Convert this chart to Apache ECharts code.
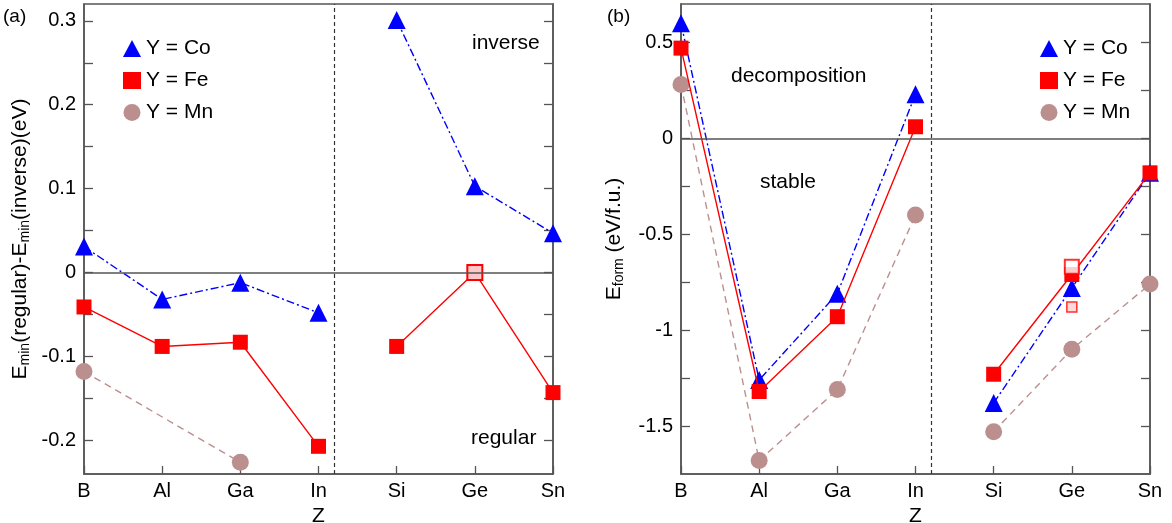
<!DOCTYPE html>
<html>
<head>
<meta charset="utf-8">
<script src="https://cdn.jsdelivr.net/npm/echarts@6/dist/echarts.min.js"></script>
<style>
  html, body { margin: 0; padding: 0; background: #fff; }
  #chart { width: 1172px; height: 523px; }
</style>
</head>
<body>
<div id="chart"></div>
<script>
// Z elements on the x axis (B..In are group III, Si..Sn group IV)
var zLabels = ['B', 'Al', 'Ga', 'In', 'Si', 'Ge', 'Sn'];

// panel (a): E_min(regular) - E_min(inverse)
var coA = [0.031, -0.032, -0.012, -0.048, 0.301, 0.103, 0.047];
var feA = [-0.041, -0.088, -0.083, -0.207, -0.088, 0.0, -0.143];
var mnA = [-0.118, null, -0.226, null, null, null, null];

// panel (b): formation energy
var coB = [0.60, -1.26, -0.81, 0.23, -1.38, -0.78, -0.18];
var feB = [0.47, -1.32, -0.93, 0.06, -1.23, -0.71, -0.18];
var mnB = [0.28, -1.68, -1.31, -0.40, -1.53, -1.10, -0.76];
var feGeExtraB = [-0.67, -0.88];

var yTicksA = [-0.2, -0.15, -0.1, -0.05, 0, 0.05, 0.1, 0.15, 0.2, 0.25, 0.3];
var yLabelsA = [-0.2, -0.1, 0, 0.1, 0.2, 0.3];
var yTicksB = [-1.5, -1.25, -1, -0.75, -0.5, -0.25, 0, 0.25, 0.5];
var yLabelsB = [-1.5, -1, -0.5, 0, 0.5];

var BLUE = '#0000ff', RED = '#ff0000', BROWN = '#bc8f8f', AXIS = '#555';
var FONT = 'Liberation Sans';

var myChart = echarts.init(document.getElementById('chart'));

// points of one group (0..3 or 4..6), nulls skipped
function seg(vals, from, to) {
    var out = [];
    for (var i = from; i <= to; i++) {
        if (vals[i] !== null) out.push([i, vals[i]]);
    }
    return out;
}

var styles = {
    'Y = Co': { color: BLUE, symbol: 'triangle', size: 18, line: [8, 3, 2, 3] },
    'Y = Fe': { color: RED, symbol: 'rect', size: 15, line: 'solid' },
    'Y = Mn': { color: BROWN, symbol: 'circle', size: 17, line: [7, 5] }
};

function lineSeries(name, data, idx, z) {
    var s = styles[name];
    return {
        name: name,
        type: 'line',
        xAxisIndex: idx,
        yAxisIndex: idx * 2,
        data: data,
        symbol: s.symbol,
        symbolSize: s.size,
        z: z,
        itemStyle: { color: s.color },
        lineStyle: { color: s.color, width: 1.4, type: s.line },
        animation: false
    };
}

function panelSeries(idx, co, fe, mn) {
    var list = [];
    [[0, 3], [4, 6]].forEach(function (g) {
        list.push(lineSeries('Y = Mn', seg(mn, g[0], g[1]), idx, 2));
        list.push(lineSeries('Y = Co', seg(co, g[0], g[1]), idx, 3));
        list.push(lineSeries('Y = Fe', seg(fe, g[0], g[1]), idx, 4));
    });
    return list;
}

var series = [].concat(panelSeries(0, coA, feA, mnA), panelSeries(1, coB, feB, mnB));

// panel (a): Fe at Ge is drawn as a hatched marker
series.forEach(function (s) {
    if (s.xAxisIndex === 0 && s.name === 'Y = Fe') {
        s.data = s.data.map(function (p) {
            if (p[0] === 5) {
                return { value: p, itemStyle: { color: '#ffc8c8', borderColor: RED, borderWidth: 2 } };
            }
            return p;
        });
    }
});

// panel (b): extra Fe markers at Ge
series.push({
    name: 'Fe extra',
    type: 'scatter',
    xAxisIndex: 1,
    yAxisIndex: 2,
    z: 5,
    data: [
        { value: [5, feGeExtraB[0]], symbolSize: 14, itemStyle: { color: '#fff', borderColor: RED, borderWidth: 2 } },
        { value: [5, feGeExtraB[1]], symbolSize: 10, itemStyle: { color: '#ffd0d0', borderColor: RED, borderWidth: 1.5 } }
    ],
    symbol: 'rect',
    animation: false
});

// reference lines: zero line and the group divider
[0, 1].forEach(function (idx) {
    series.push({
        type: 'line',
        xAxisIndex: idx,
        yAxisIndex: idx * 2,
        data: [],
        silent: true,
        markLine: {
            silent: true,
            symbol: 'none',
            label: { show: false },
            animation: false,
            data: [
                { yAxis: 0, lineStyle: { color: AXIS, type: 'solid', width: 1.5 } },
                { xAxis: 3.2, lineStyle: { color: '#333', type: [4, 3], width: 1.2 } }
            ]
        }
    });
});

function xAxis(idx) {
    return {
        type: 'value',
        gridIndex: idx,
        min: 0,
        max: 6,
        interval: 1,
        name: 'Z',
        nameLocation: 'middle',
        nameGap: 28,
        nameTextStyle: { fontSize: 21, color: '#000', fontFamily: FONT },
        axisLine: { show: true, onZero: false, lineStyle: { color: AXIS, width: 1.5 } },
        axisTick: { show: true, inside: true, length: 8, lineStyle: { color: AXIS, width: 1.3 } },
        axisLabel: {
            fontSize: 20, color: '#000', fontFamily: FONT, margin: 7,
            formatter: function (v) { return zLabels[v] || ''; }
        },
        splitLine: { show: false }
    };
}

function yAxes(idx, min, max, ticks, labels, name, gap) {
    var left = {
        type: 'value',
        gridIndex: idx,
        min: min,
        max: max,
        position: 'left',
        name: name,
        nameLocation: 'middle',
        nameGap: gap,
        nameRotate: 90,
        nameTextStyle: {
            fontSize: 21, color: '#000', fontFamily: FONT,
            rich: { sub: { fontSize: 14, fontFamily: FONT, color: '#000', verticalAlign: 'bottom', padding: [9, 0, 0, 0] } }
        },
        axisLine: { show: true, onZero: false, lineStyle: { color: AXIS, width: 1.5 } },
        axisTick: { show: true, inside: true, length: 9, customValues: ticks, lineStyle: { color: AXIS, width: 1.3 } },
        axisLabel: { fontSize: 20, color: '#000', fontFamily: FONT, margin: 8, customValues: labels },
        splitLine: { show: false }
    };
    var right = {
        type: 'value',
        gridIndex: idx,
        min: min,
        max: max,
        position: 'right',
        axisLine: { show: true, onZero: false, lineStyle: { color: AXIS, width: 1.5 } },
        axisTick: { show: true, inside: true, length: 9, customValues: ticks, lineStyle: { color: AXIS, width: 1.3 } },
        axisLabel: { show: false },
        splitLine: { show: false }
    };
    return [left, right];
}

function legend(left) {
    return {
        left: left,
        top: 33,
        orient: 'vertical',
        itemWidth: 18,
        itemHeight: 17,
        itemGap: 11,
        selectedMode: false,
        textStyle: { fontSize: 21, color: '#000', fontFamily: FONT },
        data: [
            { name: 'Y = Co', icon: 'triangle' },
            { name: 'Y = Fe', icon: 'rect' },
            { name: 'Y = Mn', icon: 'circle' }
        ]
    };
}

function label(text, x, y, align) {
    return {
        type: 'text',
        left: x, top: y,
        style: { text: text, fontSize: 21, fill: '#000', fontFamily: FONT, textAlign: align || 'left' }
    };
}

var option = {
    backgroundColor: '#fff',
    animation: false,
    grid: [
        { left: 84, top: 4, width: 469, height: 470, show: true, borderColor: AXIS, borderWidth: 1.5, outerBoundsMode: 'none' },
        { left: 681, top: 4, width: 469, height: 470, show: true, borderColor: AXIS, borderWidth: 1.5, outerBoundsMode: 'none' }
    ],
    xAxis: [xAxis(0), xAxis(1)],
    yAxis: [].concat(
        yAxes(0, -0.24, 0.32, yTicksA, yLabelsA, 'E{sub|min}(regular)-E{sub|min}(inverse)(eV)', 52),
        yAxes(1, -1.75, 0.7, yTicksB, yLabelsB, 'E{sub|form} (eV/f.u.)', 55)
    ),
    legend: [legend(118), legend(1035)],
    graphic: [
        { type: 'text', left: 3, top: 7, style: { text: '(a)', fontSize: 19, fill: '#000', fontFamily: FONT } },
        { type: 'text', left: 607, top: 7, style: { text: '(b)', fontSize: 19, fill: '#000', fontFamily: FONT } },
        label('inverse', 472, 33),
        label('regular', 471, 428),
        label('decomposition', 731, 66),
        label('stable', 760, 172)
    ],
    series: series
};

myChart.setOption(option);
</script>
</body>
</html>
